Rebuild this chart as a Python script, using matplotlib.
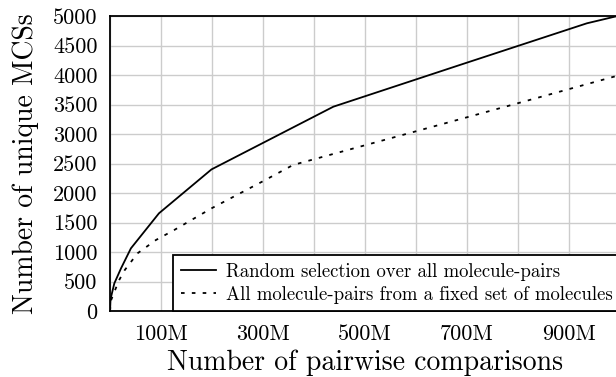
import matplotlib
matplotlib.use("Agg")
import matplotlib.pyplot as plt

plt.rcParams['font.family'] = 'cmr10'
plt.rcParams['axes.formatter.use_mathtext'] = True

# data (x in millions of pairwise comparisons)
random_x = [0, 1, 8.5, 21.6, 41, 96, 199, 438, 686, 935, 1000]
random_y = [0, 200, 469, 723, 1062, 1656, 2400, 3463, 4170, 4876, 5010]
fixed_x = [0, 2, 10, 18, 29, 54, 90, 126, 199, 300, 359, 686, 1000]
fixed_y = [0, 180, 356, 525, 695, 978, 1203, 1373, 1740, 2200, 2475, 3250, 4000]

xtick_vals = [100, 300, 500, 700, 900]
xtick_labels = ['100M', '300M', '500M', '700M', '900M']
ytick_vals = [0, 500, 1000, 1500, 2000, 2500, 3000, 3500, 4000, 4500, 5000]

label_random = 'Random selection over all molecule-pairs'
label_fixed = 'All molecule-pairs from a fixed set of molecules'

fig = plt.figure(figsize=(6.16, 3.77), dpi=100)
ax = fig.add_axes([110/616, 1-311/377, 510/616, 295/377])

ax.plot(random_x, random_y, color='black', lw=1.3, label=label_random)
ax.plot(fixed_x, fixed_y, color='black', lw=1.3, linestyle=(0, (2, 4)), label=label_fixed)

ax.set_xlim(0, 1000)
ax.set_ylim(0, 5000)
ax.set_xticks(xtick_vals)
ax.set_xticklabels(xtick_labels)
ax.set_xticks(range(0, 1001, 100), minor=True)
ax.set_yticks(ytick_vals)
ax.set_yticklabels([str(v) for v in ytick_vals])
ax.tick_params(axis='both', which='both', length=0, labelsize=16)
ax.tick_params(axis='x', pad=10)
ax.tick_params(axis='y', pad=9)
ax.grid(True, which='both', color='#cccccc', lw=1.0)
ax.set_axisbelow(True)
for s in ax.spines.values():
    s.set_linewidth(1.3)
    s.set_color('black')

ax.set_xlabel('Number of pairwise comparisons', fontsize=20, labelpad=4)
ax.set_ylabel('Number of unique MCSs', fontsize=20, labelpad=10)

leg = ax.legend(loc='lower right', bbox_to_anchor=(1, 0), borderaxespad=0,
                fancybox=False, edgecolor='black', framealpha=1, fontsize=13.5,
                handlelength=1.9, handletextpad=0.5, borderpad=0.4,
                labelspacing=0.25)
leg.get_frame().set_linewidth(1.3)

fig.savefig('out.png', dpi=100)
